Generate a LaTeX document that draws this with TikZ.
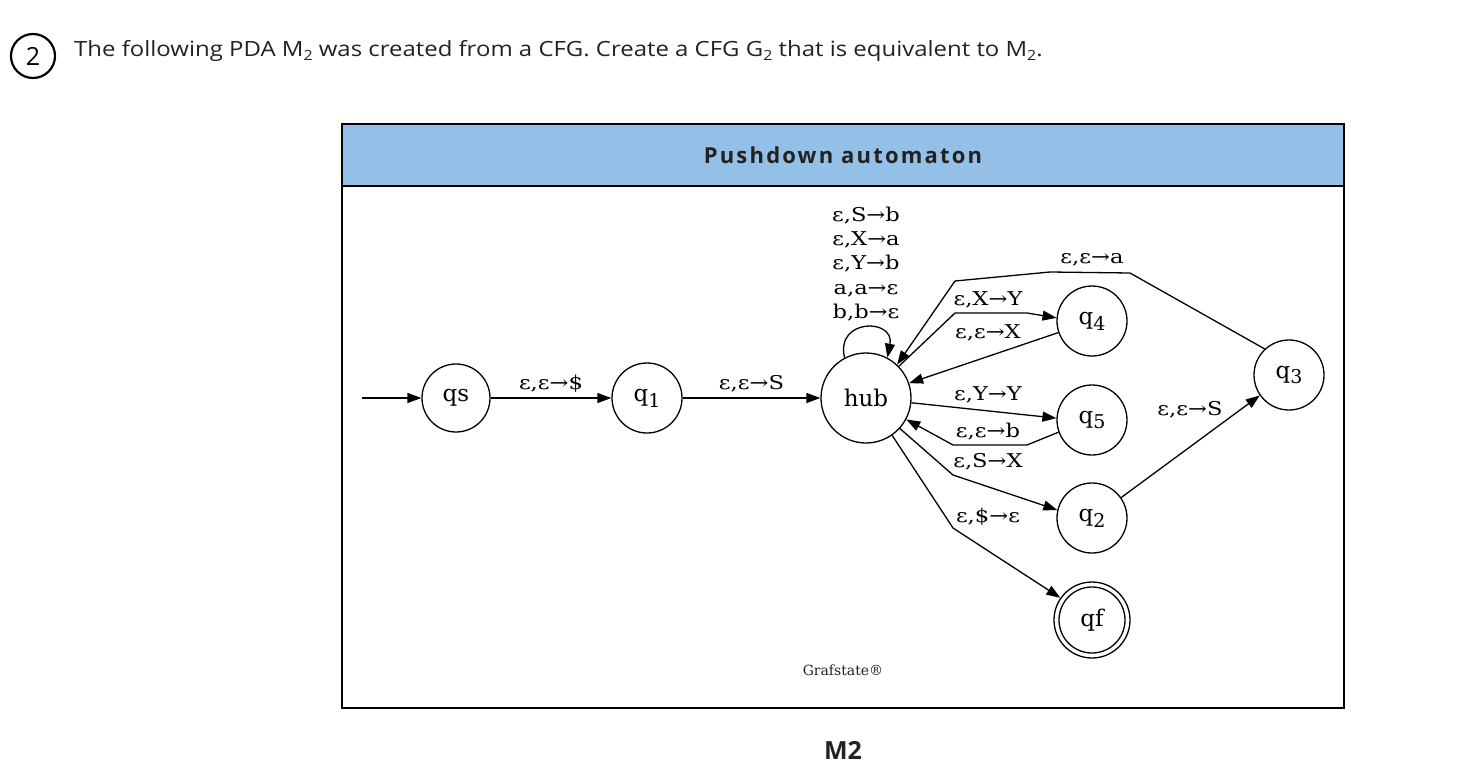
\documentclass[tikz,border=0pt]{standalone}
\usepackage{fontspec}
\usepackage{graphicx}
\setmainfont{DejaVu Serif}
\newfontfamily\opensans{Open Sans}
\usetikzlibrary{arrows.meta}
\definecolor{hdr}{HTML}{94BFE7}
\definecolor{ink}{HTML}{222222}
\newcommand\qsub[1]{\raisebox{-0.5ex}{\fontsize{19}{19}\selectfont #1}}
\newcommand\tsub[1]{\raisebox{-0.35ex}{\fontsize{14}{14}\selectfont #1}}
\newcommand\lt[1]{\scalebox{1.19}[1]{#1}}
\tikzset{
  st/.style={draw, circle, line width=1.3pt, inner sep=0pt, minimum size=70pt, font=\fontsize{23}{23}\selectfont},
  ed/.style={line width=1.3pt, -{Triangle[length=14pt,width=10pt]}},
  lb/.style={font=\fontsize{19}{19}\selectfont, inner sep=0pt},
}
\begin{document}
\begin{tikzpicture}[x=1pt,y=-1pt]
\useasboundingbox (0,0) rectangle (1468,776);
% question header
\node[draw, circle, line width=2.2pt, minimum size=44pt, inner sep=0pt, font=\opensans\fontsize{25}{25}\selectfont] (num) at (33,56) {2};
\node[anchor=base west, inner sep=0pt, font=\opensans\fontsize{21}{21}\selectfont, text=ink] (title) at (74,57)
  {\scalebox{1.14}[1]{The following PDA M\tsub{2} was created from a CFG. Create a CFG G\tsub{2} that is equivalent to M\tsub{2}.}};
% frame
\fill[hdr] (342,124) rectangle (1344,186);
\draw[line width=2.5pt] (342,124) rectangle (1344,708);
\draw[line width=2pt] (342,186) -- (1344,186);
\node[font=\opensans\bfseries\fontsize{22}{22}\selectfont\addfontfeatures{LetterSpace=10}, text=ink] (hdrtxt) at (843,155) {Pushdown automaton};
% states
\node[st, minimum size=68pt] (qs) at (456,398) {qs};
\node[st] (q1) at (647,398) {q\qsub{1}};
\node[st, minimum size=90pt] (hub) at (866,398) {hub};
\node[st] (q4) at (1092,321) {q\qsub{4}};
\node[st] (q5) at (1092,420) {q\qsub{5}};
\node[st] (q2) at (1092,518) {q\qsub{2}};
\node[st] (q3) at (1289,375) {q\qsub{3}};
\node[st, minimum size=76pt] (qf) at (1092,620) {};
\node[st, minimum size=66pt] (qfin) at (1092,620) {qf};
\coordinate (init) at (362,398);
% edges
\draw[ed] (init) -- (qs);
\draw[ed] (qs) -- node[lb, above=5pt] {\lt{ε,ε→\$}} (q1);
\draw[ed] (q1) -- node[lb, above=5pt] {\lt{ε,ε→S}} (hub);
\draw[ed] (hub.118) .. controls (835,318) and (895,318) .. (hub.62);
\node[lb, align=center, font=\fontsize{19}{24.3}\selectfont] (looplb) at (866,264) {\lt{ε,S→b}\\\lt{ε,X→a}\\\lt{ε,Y→b}\\\lt{a,a→ε}\\\lt{b,b→ε}};
\draw[ed] (hub.44) -- (955,313) -- (1027,313) -- (q4.175);
\node[lb] (l1) at (988,300) {\lt{ε,X→Y}};
\draw[ed] (q4.199) -- (hub.19);
\node[lb] (l2) at (988,333) {\lt{ε,ε→X}};
\draw[ed] (q3.133) -- (1130,273) -- (1050,272) -- (955,281) -- (hub.47);
\node[lb] (l3) at (1092,260) {\lt{ε,ε→a}};
\draw[ed] (hub.-6) -- (q5.177);
\node[lb] (l4) at (988,395) {\lt{ε,Y→Y}};
\draw[ed] (q5.200) -- (1027,445) -- (953,445) -- (hub.-28);
\node[lb] (l5) at (988,432) {\lt{ε,ε→b}};
\draw[ed] (hub.-42) -- (953,475) -- (q2.167);
\node[lb] (l6) at (988,462) {\lt{ε,S→X}};
\draw[ed] (hub.-55) -- (953,528) -- (qf.145);
\node[lb] (l7) at (988,517) {\lt{ε,\$→ε}};
\draw[ed] (q2.35) -- (q3.215);
\node[lb] (l8) at (1190,410) {\lt{ε,ε→S}};
% footer
\node[font=\fontsize{14}{14}\selectfont, text=ink] (brand) at (843,670) {Grafstate®};
\node[font=\opensans\bfseries\fontsize{25}{25}\selectfont, text=ink] (cap) at (843,750) {M2};
\end{tikzpicture}
\end{document}
